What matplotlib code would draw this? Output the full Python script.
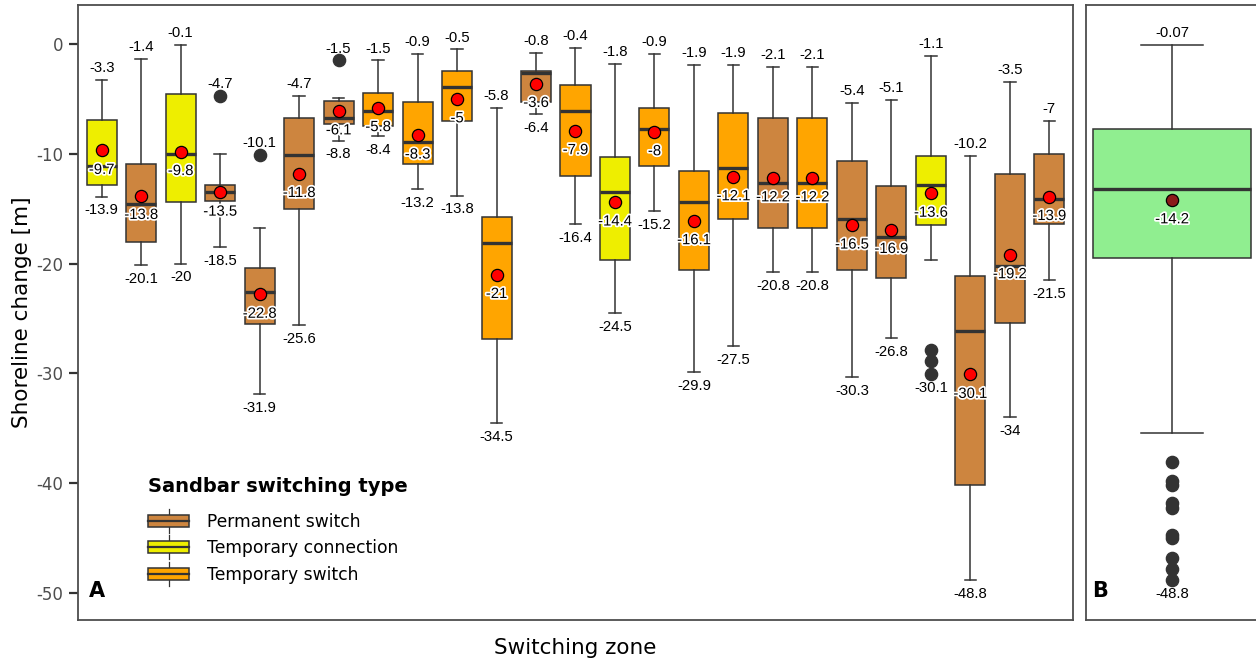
import matplotlib
matplotlib.use('Agg')
import matplotlib.pyplot as plt
import matplotlib.patheffects as pe
from matplotlib.patches import Patch, Rectangle
from matplotlib.lines import Line2D
from matplotlib.legend_handler import HandlerBase

plt.rcParams['axes.unicode_minus'] = False

# --- data ---
zones = list(range(1, 26))
zone_type = ['TC', 'PS', 'TC', 'PS', 'PS', 'PS', 'PS', 'TS', 'TS', 'TS',
             'TS', 'PS', 'TS', 'TC', 'TS', 'TS', 'TS', 'PS', 'TS', 'PS',
             'PS', 'TC', 'PS', 'PS', 'PS']
whishi = [-3.3, -1.4, -0.1, -10.0, -16.8, -4.7, -4.9, -1.5, -0.9, -0.5,
          -5.8, -0.8, -0.4, -1.8, -0.9, -1.9, -1.9, -2.1, -2.1, -5.4,
          -5.1, -1.1, -10.2, -3.5, -7.0]
q3 = [-6.9, -10.9, -4.6, -12.8, -20.4, -6.7, -5.2, -4.5, -5.3, -2.5,
      -15.8, -2.5, -3.7, -10.3, -5.8, -11.6, -6.3, -6.7, -6.7, -10.7,
      -12.9, -10.2, -21.1, -11.8, -10.0]
med = [-11.1, -14.6, -10.0, -13.5, -22.6, -10.1, -6.7, -6.1, -8.9, -3.9,
       -18.1, -2.6, -6.1, -13.5, -7.7, -14.4, -11.3, -12.7, -12.7, -15.9,
       -17.6, -12.8, -26.1, -20.2, -14.1]
q1 = [-12.8, -18.0, -14.4, -14.3, -25.5, -15.0, -7.3, -7.5, -10.9, -7.0,
      -26.9, -5.3, -12.0, -19.7, -11.1, -20.6, -15.9, -16.8, -16.8, -20.6,
      -21.3, -16.5, -40.2, -25.4, -16.4]
whislo = [-13.9, -20.1, -20.0, -18.5, -31.9, -25.6, -8.8, -8.4, -13.2, -13.8,
          -34.5, -6.4, -16.4, -24.5, -15.2, -29.9, -27.5, -20.8, -20.8, -30.3,
          -26.8, -19.7, -48.8, -34.0, -21.5]
means = [-9.7, -13.8, -9.8, -13.5, -22.8, -11.8, -6.1, -5.8, -8.3, -5.0,
         -21.0, -3.6, -7.9, -14.4, -8.0, -16.1, -12.1, -12.2, -12.2, -16.5,
         -16.9, -13.6, -30.1, -19.2, -13.9]
outliers = {4: [-4.7], 5: [-10.1], 7: [-1.5], 22: [-27.9, -28.9, -30.1]}

type_names = {'PS': 'Permanent switch', 'TC': 'Temporary connection',
              'TS': 'Temporary switch'}
type_colors = {'PS': '#CD853F', 'TC': '#EEEE00', 'TS': '#FFA500'}

# all zones pooled (panel B)
all_stats = dict(whishi=-0.07, q3=-7.7, med=-13.2, q1=-19.5, whislo=-35.4,
                 mean=-14.2,
                 fliers=[-38.1, -39.8, -40.2, -41.8, -42.3, -44.7, -45.0,
                         -46.8, -47.8, -48.8])

dark = '#333333'
ylim = (-52.46, 3.55)


class BoxKey(HandlerBase):
    def create_artists(self, legend, orig_handle, xdescent, ydescent,
                       width, height, fontsize, trans):
        x0, y0 = -xdescent, -ydescent
        cy = y0 + height / 2
        whisk = Line2D([x0 + width / 2] * 2, [cy - height * 1.0, cy + height * 1.0],
                       color=dark, lw=0.9, transform=trans)
        box = Rectangle((x0, cy - height * 0.5), width, height,
                        facecolor=orig_handle.get_facecolor(), edgecolor=dark,
                        lw=1.1, transform=trans)
        mline = Line2D([x0, x0 + width], [cy, cy], color=dark, lw=1.6,
                       transform=trans)
        return [whisk, box, mline]


def label_box(ax, x, top, bottom, mean):
    lab = dict(fontsize=10.7, family='Liberation Sans', color='black',
               ha='center', va='center', textcoords='offset points')
    ax.annotate(f'{top:g}', (x, top), xytext=(0, 8.6), **lab)
    ax.annotate(f'{bottom:g}', (x, bottom), xytext=(0, -10), **lab)
    t = ax.annotate(f'{mean:g}', (x, mean), xytext=(0, -14), **lab)
    t.set_path_effects([pe.withStroke(linewidth=2.5, foreground='white')])


def draw(ax, stats, positions, width, capw, colors, mean_color):
    bp = ax.bxp(stats, positions=positions, widths=width, capwidths=capw,
                patch_artist=True, showmeans=True, manage_ticks=False,
                boxprops=dict(edgecolor=dark, linewidth=1.1),
                whiskerprops=dict(color=dark, linewidth=1.1),
                capprops=dict(color=dark, linewidth=1.1),
                medianprops=dict(color=dark, linewidth=2.4),
                meanprops=dict(marker='o', markerfacecolor=mean_color,
                               markeredgecolor='black', markersize=8.8,
                               markeredgewidth=0.9),
                flierprops=dict(marker='o', markerfacecolor=dark,
                                markeredgecolor=dark, markersize=8.8))
    for patch, c in zip(bp['boxes'], colors):
        patch.set_facecolor(c)
    for s, x in zip(stats, positions):
        pts = [s['whishi'], s['whislo']] + list(s['fliers'])
        label_box(ax, x, max(pts), min(pts), s['mean'])


fig = plt.figure(figsize=(12.56, 6.64), dpi=100)
axA = fig.add_axes([78 / 1256, 1 - 620 / 664, 995 / 1256, 615 / 664])
axB = fig.add_axes([1086 / 1256, 1 - 620 / 664, 172 / 1256, 615 / 664])

stats_a = []
for i, z in enumerate(zones):
    stats_a.append(dict(whishi=whishi[i], q3=q3[i], med=med[i], q1=q1[i],
                        whislo=whislo[i], mean=means[i],
                        fliers=outliers.get(z, [])))
draw(axA, stats_a, zones, 0.76, 0.29,
     [type_colors[t] for t in zone_type], '#FF0000')
draw(axB, [all_stats], [1], 1.10, 0.43, ['#90EE90'], '#8B1A1A')

axA.set_xlim(0.4, 25.6)
axB.set_xlim(0.4, 1.6)
for ax in (axA, axB):
    ax.set_ylim(*ylim)
    ax.set_xticks([])
    for sp in ax.spines.values():
        sp.set_color('#4D4D4D')
        sp.set_linewidth(1.3)

axA.set_yticks([0, -10, -20, -30, -40, -50])
axA.tick_params(axis='y', length=6.5, width=1.6, color=dark,
                labelcolor='#4D4D4D', labelsize=12, pad=4)
axB.set_yticks([])

axA.set_ylabel('Shoreline change [m]', fontsize=15.5)
axA.yaxis.set_label_coords(-0.046, 0.5)
axA.set_xlabel('Switching zone', fontsize=15.5, labelpad=13)

axA.text(0.019, 0.047, 'A', transform=axA.transAxes, fontsize=15,
         fontweight='bold', ha='center', va='center')
axB.text(0.081, 0.047, 'B', transform=axB.transAxes, fontsize=15,
         fontweight='bold', ha='center', va='center')

order = ['PS', 'TC', 'TS']
handles = [Patch(facecolor=type_colors[t]) for t in order]
leg = axA.legend(handles, [type_names[t] for t in order],
                 title='Sandbar switching type', handler_map={Patch: BoxKey()},
                 loc='upper left', bbox_to_anchor=(148 / 1256, 1 - 477 / 664),
                 bbox_transform=fig.transFigure, frameon=False, fontsize=12.3,
                 title_fontproperties={'weight': 'bold', 'size': 14},
                 alignment='left', handlelength=2.4, handleheight=0.7,
                 handletextpad=1.05, labelspacing=0.5, borderpad=0,
                 borderaxespad=0)
leg._legend_box.sep = 12

fig.savefig('out.png', dpi=100)
